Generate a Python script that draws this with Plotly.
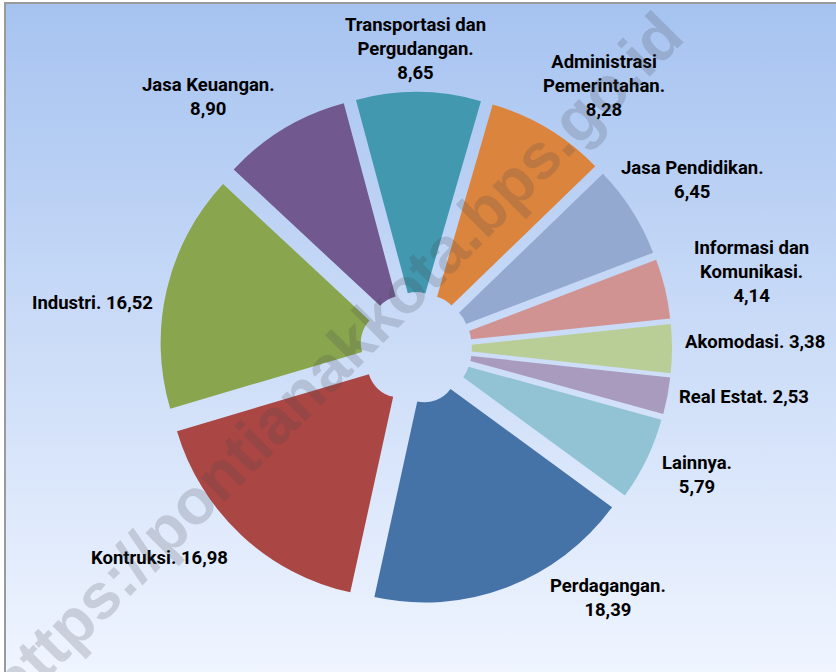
import base64
import math
import plotly.graph_objects as go

# ---- data (clockwise from the top) ----
sectors = [
    "Transportasi dan<br>Pergudangan",
    "Administrasi<br>Pemerintahan",
    "Jasa Pendidikan",
    "Informasi dan<br>Komunikasi",
    "Akomodasi",
    "Real Estat",
    "Lainnya",
    "Perdagangan",
    "Kontruksi",
    "Industri",
    "Jasa Keuangan",
]
shares = [8.65, 8.28, 6.45, 4.14, 3.38, 2.53, 5.79, 18.39, 16.98, 16.52, 8.90]
value_break = ["<br>", "<br>", "<br>", "<br>", " ", " ", "<br>", "<br>", " ", " ", "<br>"]
colors = ["#4198AF", "#DB843D", "#93A9CF", "#D19392", "#B9CD96", "#A99BBD",
          "#91C3D5", "#4572A7", "#AA4643", "#89A54E", "#71588F"]

# label nudges in pixels (styling only: dx right, dy down)
label_nudge = [(-3, 2), (-11, 1), (-20, -1), (19, -15), (3, -7), (2, 0),
               (6, 12), (39, -22), (-6, 4), (-4, 15), (-3, 0)]

W, H = 836, 672
ROT, PULL, HOLE = -15, 0.1, 0.14
FONT = dict(family="Roboto, Lato, sans-serif", size=18.5, color="#000000", weight="bold")

texts = [f"{s}.{b}" + f"{v:.2f}".replace(".", ",") for s, b, v in zip(sectors, value_break, shares)]

# pie geometry (pixels)
cx, cy, half = 416, 348, 256
dom_x = [(cx - half) / W, (cx + half) / W]
dom_y = [(H - cy - half) / H, (H - cy + half) / H]
r = half / (1 + PULL)
outer = r * (1 + PULL) + 8

fig = go.Figure(go.Pie(
    labels=[s.replace("<br>", " ") for s in sectors],
    values=shares,
    textinfo="none",
    sort=False,
    direction="clockwise",
    rotation=ROT,
    hole=HOLE,
    pull=PULL,
    marker=dict(colors=colors, line=dict(width=0)),
    domain=dict(x=dom_x, y=dom_y),
    showlegend=False,
    hoverinfo="label+value",
))

# data labels placed from the slice mid-angles
annotations = []
total = sum(shares)
cum = 0.0
for txt, v, (ndx, ndy) in zip(texts, shares, label_nudge):
    mid = math.radians(ROT + 360.0 * (cum + v / 2) / total)
    cum += v
    ux, uy = math.sin(mid), -math.cos(mid)
    px, py = cx + outer * ux, cy + outer * uy
    xa = "left" if ux > 0.25 else ("right" if ux < -0.25 else "center")
    ya = "bottom" if uy < -0.5 else ("top" if uy > 0.5 else "middle")
    annotations.append(dict(text=txt, x=px / W, y=1 - py / H, xref="paper", yref="paper",
                            xanchor=xa, yanchor=ya, xshift=ndx, yshift=-ndy,
                            showarrow=False, align="center", font=FONT))

annotations.append(dict(text="https://pontianakkota.bps.go.id", xref="paper", yref="paper",
                        x=335 / W, y=1 - 360 / H, showarrow=False, textangle=-45,
                        font=dict(family="Liberation Sans, Arial, sans-serif", size=64,
                                  color="rgba(70,70,80,0.2)", weight="bold")))

# gradient background as an SVG image
svg = ('<svg xmlns="http://www.w3.org/2000/svg" width="100" height="100" viewBox="0 0 100 100" '
       'preserveAspectRatio="none"><defs><linearGradient id="g" x1="0" y1="0" x2="0" y2="1">'
       '<stop offset="0" stop-color="rgb(166,195,240)"/>'
       '<stop offset="1" stop-color="rgb(240,245,255)"/>'
       '</linearGradient></defs><rect width="100" height="100" fill="url(#g)"/></svg>')
src = "data:image/svg+xml;base64," + base64.b64encode(svg.encode()).decode()

fig.update_layout(
    width=W, height=H,
    margin=dict(l=0, r=0, t=0, b=0, autoexpand=False),
    paper_bgcolor="white",
    plot_bgcolor="rgba(0,0,0,0)",
    images=[dict(source=src, xref="paper", yref="paper", x=6 / W, y=1 - 4 / H,
                 sizex=1.0, sizey=1.0, sizing="stretch", xanchor="left", yanchor="top",
                 layer="below")],
    shapes=[dict(type="rect", xref="paper", yref="paper", x0=5 / W, y0=-0.05,
                 x1=1.05, y1=1 - 3 / H, line=dict(color="#9a9a9a", width=2),
                 fillcolor="rgba(0,0,0,0)", layer="above")],
    annotations=annotations,
)

fig.write_html("out.html", config={"displayModeBar": False},
               post_script="document.body.style.margin='0px';")
